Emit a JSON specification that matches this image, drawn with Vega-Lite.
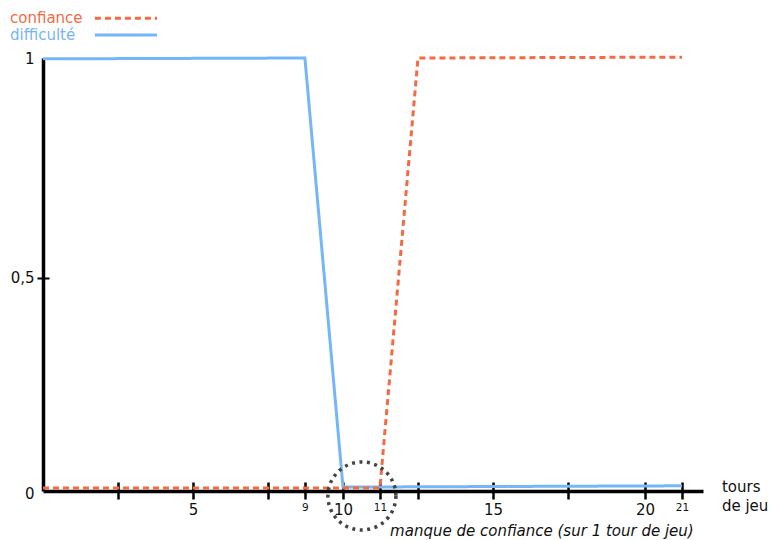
{
  "$schema": "https://vega.github.io/schema/vega-lite/v6.json",
  "width": 660,
  "height": 433,
  "autosize": "none",
  "padding": {"left": 43, "top": 58, "right": 66, "bottom": 49},
  "background": "white",
  "config": {"view": {"stroke": null}, "font": "DejaVu Sans", "text": {"font": "DejaVu Sans"}},
  "datasets": {
    "lines": [
      {"series": "difficulté", "x": 0, "y": 0.998},
      {"series": "difficulté", "x": 8.73, "y": 1.0},
      {"series": "difficulté", "x": 10, "y": 0.009},
      {"series": "difficulté", "x": 21.3, "y": 0.012},
      {"series": "confiance", "x": 0, "y": 0.007},
      {"series": "confiance", "x": 11.23, "y": 0.007},
      {"series": "confiance", "x": 12.5, "y": 1.0},
      {"series": "confiance", "x": 21.3, "y": 1.002}
    ],
    "circle": [{"x": 10.63, "y": -0.0115}],
    "legend": [
      {"series": "confiance", "label": "confiance", "x": -1.1, "x2": 1.73, "x3": 3.8, "y": 1.092},
      {"series": "difficulté", "label": "difficulté", "x": -1.1, "x2": 1.73, "x3": 3.8, "y": 1.053}
    ],
    "note": [{"x": 11.57, "y": -0.092, "text": "manque de confiance (sur 1 tour de jeu)"}],
    "unit": [
      {"x": 22.63, "y": 0.009, "text": "tours"},
      {"x": 22.63, "y": -0.035, "text": "de jeu"}
    ]
  },
  "resolve": {"axis": {"x": "independent", "y": "independent"}},
  "layer": [
    {
      "data": {"name": "lines"},
      "mark": {"type": "line", "strokeWidth": 3, "clip": false},
      "encoding": {
        "x": {
          "field": "x", "type": "quantitative",
          "scale": {"domain": [0, 22], "nice": false, "zero": false},
          "axis": {
            "orient": "bottom", "title": null, "grid": false,
            "values": [2.5, 5, 7.5, 8.73, 10, 11.23, 12.5, 15, 17.5, 20.07, 21.3],
            "labelExpr": "datum.value == 5 ? '5' : datum.value == 8.73 ? '9' : datum.value == 10 ? '10' : datum.value == 11.23 ? '11' : datum.value == 15 ? '15' : datum.value == 20.07 ? '20' : datum.value == 21.3 ? '21' : ''",
            "labelFontSize": {"condition": {"test": "datum.value == 8.73 || datum.value == 11.23 || datum.value == 21.3", "value": 10.5}, "value": 15},
            "labelColor": "#111", "labelPadding": 3, "labelFlush": false, "labelOverlap": false,
            "domain": true, "domainColor": "#000", "domainWidth": 3.5,
            "ticks": true, "tickColor": "#000", "tickWidth": 2.5, "tickSize": 8
          }
        },
        "y": {
          "field": "y", "type": "quantitative",
          "scale": {"domain": [0, 1], "nice": false, "zero": false},
          "axis": {
            "orient": "left", "title": null, "grid": false,
            "values": [0, 0.492, 1],
            "labelExpr": "datum.value == 0 ? '0' : datum.value == 1 ? '1' : '0,5'",
            "labelFontSize": 15, "labelColor": "#111", "labelPadding": 3,
            "labelOffset": {"condition": {"test": "datum.value == 0", "value": 2}, "value": 0},
            "labelFlush": false, "labelOverlap": false,
            "domain": true, "domainColor": "#000", "domainWidth": 3.5,
            "ticks": true, "tickColor": "#000", "tickWidth": 2, "tickSize": 6,
            "tickOpacity": {"condition": {"test": "datum.value == 0.492", "value": 1}, "value": 0}
          }
        },
        "color": {"field": "series", "type": "nominal", "legend": null,
          "scale": {"domain": ["confiance", "difficulté"], "range": ["#f26b43", "#74b6f7"]}},
        "strokeDash": {"field": "series", "type": "nominal", "legend": null,
          "scale": {"domain": ["confiance", "difficulté"], "range": [[6, 4], [1, 0]]}}
      }
    },
    {
      "data": {"name": "circle"},
      "mark": {"type": "point", "shape": "circle", "filled": false, "stroke": "#444", "strokeWidth": 3.5, "strokeDash": [3, 4.5], "size": 4624, "opacity": 1, "clip": false},
      "encoding": {
        "x": {
          "field": "x", "type": "quantitative",
          "scale": {"domain": [0, 22], "nice": false, "zero": false},
          "axis": {
            "orient": "bottom", "title": null, "grid": false, "domain": false, "labels": false,
            "values": [2.5, 5, 7.5, 8.73, 10, 11.23, 12.5, 15, 17.5, 20.07, 21.3],
            "ticks": true, "tickColor": "#000", "tickWidth": 2.5, "tickSize": -9
          }
        },
        "y": {
          "field": "y", "type": "quantitative",
          "scale": {"domain": [0, 1], "nice": false, "zero": false},
          "axis": {
            "orient": "left", "title": null, "grid": false, "domain": false, "labels": false,
            "values": [0.492],
            "ticks": true, "tickColor": "#000", "tickWidth": 2, "tickSize": -6
          }
        }
      }
    },
    {
      "data": {"name": "legend"},
      "mark": {"type": "text", "align": "left", "baseline": "middle", "fontSize": 15, "clip": false},
      "encoding": {
        "x": {"field": "x", "type": "quantitative", "scale": {"domain": [0, 22], "nice": false, "zero": false}, "axis": null},
        "y": {"field": "y", "type": "quantitative", "scale": {"domain": [0, 1], "nice": false, "zero": false}, "axis": null},
        "text": {"field": "label"},
        "color": {"field": "label", "type": "nominal", "legend": null,
          "scale": {"domain": ["confiance", "difficulté"], "range": ["#ff4f1c", "#2a85ef"]}}
      }
    },
    {
      "data": {"name": "legend"},
      "mark": {"type": "rule", "strokeWidth": 3, "clip": false},
      "encoding": {
        "x": {"field": "x2", "type": "quantitative", "scale": {"domain": [0, 22], "nice": false, "zero": false}, "axis": null},
        "x2": {"field": "x3"},
        "y": {"field": "y", "type": "quantitative", "scale": {"domain": [0, 1], "nice": false, "zero": false}, "axis": null},
        "color": {"field": "series", "type": "nominal", "legend": null,
          "scale": {"domain": ["confiance", "difficulté"], "range": ["#f26b43", "#74b6f7"]}},
        "strokeDash": {"field": "series", "type": "nominal", "legend": null,
          "scale": {"domain": ["confiance", "difficulté"], "range": [[6, 4], [1, 0]]}}
      }
    },
    {
      "data": {"name": "note"},
      "mark": {"type": "text", "align": "left", "baseline": "middle", "fontSize": 15, "fontStyle": "italic", "color": "#111", "clip": false},
      "encoding": {
        "x": {"field": "x", "type": "quantitative", "scale": {"domain": [0, 22], "nice": false, "zero": false}, "axis": null},
        "y": {"field": "y", "type": "quantitative", "scale": {"domain": [0, 1], "nice": false, "zero": false}, "axis": null},
        "text": {"field": "text"}
      }
    },
    {
      "data": {"name": "unit"},
      "mark": {"type": "text", "align": "left", "baseline": "middle", "fontSize": 15, "color": "#111", "clip": false},
      "encoding": {
        "x": {"field": "x", "type": "quantitative", "scale": {"domain": [0, 22], "nice": false, "zero": false}, "axis": null},
        "y": {"field": "y", "type": "quantitative", "scale": {"domain": [0, 1], "nice": false, "zero": false}, "axis": null},
        "text": {"field": "text"}
      }
    }
  ]
}
